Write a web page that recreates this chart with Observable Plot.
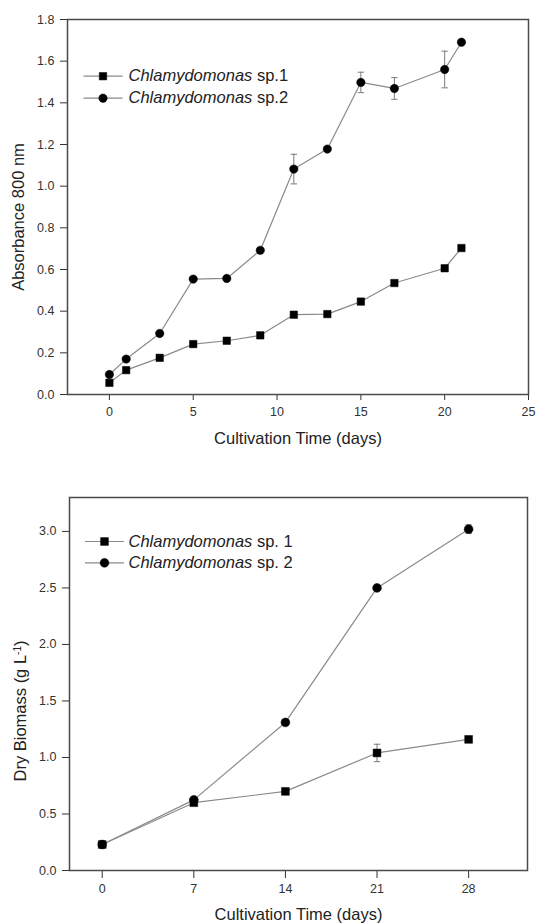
<!DOCTYPE html>
<html>
<head>
<meta charset="utf-8">
<script src="https://cdn.jsdelivr.net/npm/d3@7"></script>
<script src="https://cdn.jsdelivr.net/npm/@observablehq/plot@0.6"></script>
<style>
  html, body { margin: 0; padding: 0; background: #fff; }
  #wrap { position: relative; width: 536px; height: 924px; font-family: "Liberation Sans", Arial, sans-serif; }
  #c1, #c2 { position: absolute; left: 0; }
  #c1 { top: 0; }
  #c2 { top: 450px; }
  svg { display: block; }
</style>
</head>
<body>
<div id="wrap"><div id="c1"></div><div id="c2"></div></div>
<script>
// ---- Chart 1: Absorbance 800 nm ----
const days1 = [0, 1, 3, 5, 7, 9, 11, 13, 15, 17, 20, 21];
const abs_sp1 = [0.056, 0.117, 0.176, 0.242, 0.258, 0.284, 0.383, 0.386, 0.446, 0.535, 0.606, 0.703];
const abs_sp2 = [0.096, 0.170, 0.293, 0.554, 0.557, 0.692, 1.082, 1.178, 1.498, 1.469, 1.560, 1.691];
const abs_err1 = [0, 0, 0, 0, 0, 0, 0, 0, 0, 0, 0, 0];
const abs_err2 = [0, 0, 0, 0, 0, 0, 0.071, 0, 0.049, 0.052, 0.088, 0];
const xTicks1 = [0, 5, 10, 15, 20, 25];
const yTicks1 = [0, 0.2, 0.4, 0.6, 0.8, 1.0, 1.2, 1.4, 1.6, 1.8];
const legend1 = ["Chlamydomonas sp.1", "Chlamydomonas sp.2"];
const xTitle1 = "Cultivation Time (days)";
const yTitle1 = "Absorbance 800 nm";

// ---- Chart 2: Dry biomass ----
const days2 = [0, 7, 14, 21, 28];
const bio_sp1 = [0.23, 0.60, 0.70, 1.04, 1.16];
const bio_sp2 = [0.23, 0.625, 1.31, 2.50, 3.02];
const bio_err1 = [0, 0, 0, 0.077, 0];
const bio_err2 = [0, 0, 0, 0, 0.038];
const xTicks2 = [0, 7, 14, 21, 28];
const yTicks2 = [0, 0.5, 1.0, 1.5, 2.0, 2.5, 3.0];
const legend2 = ["Chlamydomonas sp. 1", "Chlamydomonas sp. 2"];
const xTitle2 = "Cultivation Time (days)";
const yTitle2 = "Dry Biomass (g L-1)";

const symbols = ["square", "circle"];

const lineSym = { draw(ctx) { ctx.moveTo(-19.5, 0); ctx.lineTo(19.5, 0); } };
const capSym = { draw(ctx) { ctx.moveTo(-3.2, 0); ctx.lineTo(3.2, 0); } };

function legendMarks(cfg) {
  const lineColor = "#8a8a8a";
  const marks = [];
  cfg.legend.forEach((t, k) => {
    const dy = cfg.legDy[k];
    marks.push(Plot.dot([t], { frameAnchor: "top-left", dx: cfg.legDx, dy, symbol: lineSym, stroke: lineColor, strokeWidth: 1.2, r: 3 }));
    marks.push(Plot.dot([t], { frameAnchor: "top-left", dx: cfg.legDx, dy, symbol: symbols[k], fill: "#000", stroke: "#000", strokeWidth: 0.5, r: cfg.r }));
    marks.push(Plot.text([t], { frameAnchor: "top-left", dx: cfg.legTx, dy, textAnchor: "start", lineAnchor: "middle", fontSize: 16.5, fill: "#222" }));
  });
  return marks;
}

function make(cfg) {
  const rows = [];
  cfg.series.forEach((s, k) => {
    cfg.days.forEach((d, i) => rows.push({ x: d, y: s.vals[i], e: s.err[i], k, sym: symbols[k] }));
  });
  const errRows = rows.filter(r => r.e > 0);
  const lineColor = "#8a8a8a";
  const errColor = "#7a7a7a";
  return Plot.plot({
    width: 536,
    height: cfg.height,
    marginLeft: cfg.ml, marginRight: cfg.mr, marginTop: cfg.mt, marginBottom: cfg.mb,
    style: { fontFamily: '"Liberation Sans", Arial, sans-serif', fontSize: "12.5px", color: "#333", background: "#fff", overflow: "visible" },
    x: { domain: cfg.xDomain, ticks: cfg.xTicks, tickSize: cfg.xTickSize, tickPadding: cfg.xTickPad, tickFormat: d3.format("d"), label: null },
    y: { domain: cfg.yDomain, ticks: cfg.yTicks, tickSize: 7, tickPadding: 6, tickFormat: d3.format(".1f"), label: null },
    marks: [
      Plot.line(rows, { x: "x", y: "y", z: "k", stroke: lineColor, strokeWidth: 1.2 }),
      Plot.ruleX(errRows, { x: "x", y1: d => d.y - d.e, y2: d => d.y + d.e, stroke: errColor, strokeWidth: 1 }),
      Plot.dot(errRows, { x: "x", y: d => d.y + d.e, symbol: capSym, stroke: errColor, strokeWidth: 1, r: 3 }),
      Plot.dot(errRows, { x: "x", y: d => d.y - d.e, symbol: capSym, stroke: errColor, strokeWidth: 1, r: 3 }),
      Plot.dot(rows, { x: "x", y: "y", symbol: "sym", fill: "#000", stroke: "#000", strokeWidth: 0.5, r: cfg.r }),
      ...legendMarks(cfg),
      Plot.frame({ stroke: "#4a4a4a", strokeWidth: 1.5 }),
      Plot.text([cfg.xTitle], { frameAnchor: "bottom", textAnchor: "middle", lineAnchor: "middle", dy: cfg.xTitleDy, fontSize: 16.5, fill: "#222" }),
      Plot.text([cfg.yTitle], { frameAnchor: "left", textAnchor: "middle", lineAnchor: "middle", rotate: -90, dx: cfg.yTitleDx, dy: cfg.yTitleDy, fontSize: 16.5, fill: "#222" })
    ]
  });
}

function italicize(svg) {
  svg.querySelectorAll("text").forEach(t => {
    const s = t.textContent;
    if (s.startsWith("Chlamydomonas") && t.children.length === 0) {
      t.textContent = "";
      const a = document.createElementNS("http://www.w3.org/2000/svg", "tspan");
      a.setAttribute("font-style", "italic");
      a.textContent = "Chlamydomonas";
      const b = document.createElementNS("http://www.w3.org/2000/svg", "tspan");
      b.textContent = s.slice("Chlamydomonas".length);
      t.appendChild(a); t.appendChild(b);
    }
    if (s === "Dry Biomass (g L-1)") {
      t.textContent = "";
      const a = document.createElementNS("http://www.w3.org/2000/svg", "tspan");
      a.textContent = "Dry Biomass (g L";
      const b = document.createElementNS("http://www.w3.org/2000/svg", "tspan");
      b.setAttribute("baseline-shift", "super");
      b.setAttribute("font-size", "10");
      b.textContent = "-1";
      const c = document.createElementNS("http://www.w3.org/2000/svg", "tspan");
      c.textContent = ")";
      t.appendChild(a); t.appendChild(b); t.appendChild(c);
    }
  });
}

const p1 = make({
  days: days1,
  series: [{ vals: abs_sp1, err: abs_err1 }, { vals: abs_sp2, err: abs_err2 }],
  legend: legend1,
  height: 450, ml: 67, mr: 8, mt: 19, mb: 56,
  xDomain: [-2.5, 25], yDomain: [0, 1.8], xTicks: xTicks1, yTicks: yTicks1,
  xTickSize: 6, xTickPad: 7, r: 4.2,
  legDx: 35.5, legTx: 61, legDy: [56.7, 78.7],
  xTitle: xTitle1, yTitle: yTitle1, xTitleDy: 44, yTitleDx: -49, yTitleDy: 10
});
italicize(p1);
document.getElementById("c1").appendChild(p1);

const p2 = make({
  days: days2,
  series: [{ vals: bio_sp1, err: bio_err1 }, { vals: bio_sp2, err: bio_err2 }],
  legend: legend2,
  height: 474, ml: 69, mr: 9, mt: 47, mb: 54,
  xDomain: [-2.5, 32.5], yDomain: [0, 3.3], xTicks: xTicks2, yTicks: yTicks2,
  xTickSize: 8, xTickPad: 6, r: 4.4,
  legDx: 35, legTx: 59, legDy: [44, 65.3],
  xTitle: xTitle2, yTitle: yTitle2, xTitleDy: 44, yTitleDx: -49, yTitleDy: 27
});
italicize(p2);
document.getElementById("c2").appendChild(p2);
</script>
</body>
</html>
